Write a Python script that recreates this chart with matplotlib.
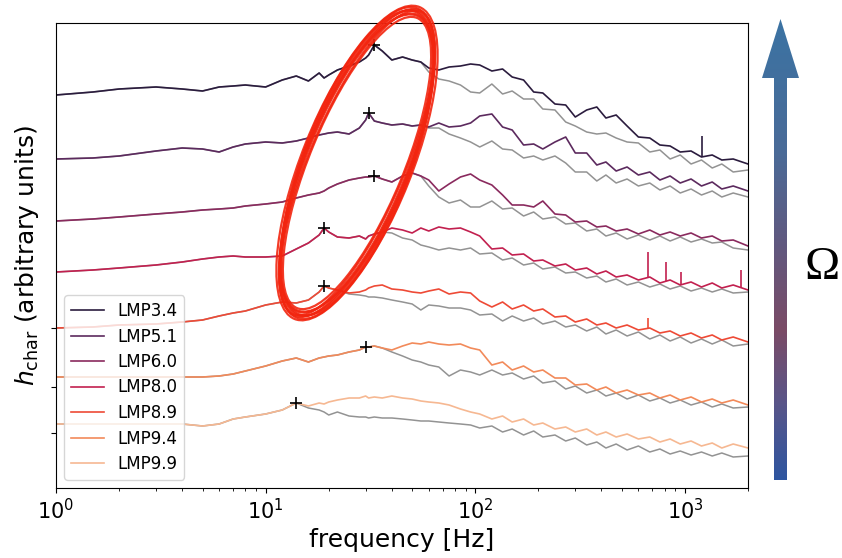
import numpy as np
import matplotlib
matplotlib.use("Agg")
import matplotlib.pyplot as plt
from matplotlib.patches import Ellipse, Polygon
from matplotlib.colors import LinearSegmentedColormap

# frequency grid [Hz] the spectra were read at
freq = [1, 1.5, 2, 3, 4, 5, 6, 7, 8, 10,
        12, 14, 16, 18, 19, 20, 22, 25, 28, 30,
        31, 33, 36, 40, 45, 50, 55, 60, 67, 75,
        85, 95, 105, 120, 135, 150, 170, 190, 210, 240,
        270, 300, 340, 380, 420, 470, 530, 600, 680, 760,
        850, 950, 1070, 1200, 1350, 1500, 1700, 2000]

labels = ["LMP3.4", "LMP5.1", "LMP6.0", "LMP8.0", "LMP8.9", "LMP9.4", "LMP9.9"]
colors = ["#2b1c3e", "#5c2a5e", "#8a2a5e", "#c2204f", "#ee4a36", "#f28a5a", "#f6b892"]

# h_char, shifted per model (arbitrary units), colored = full, gray = comparison run
lmp34 = [393, 396, 399, 401, 399, 397, 401, 402, 403, 401,
         408, 412, 407, 415, 410, 413, 418, 422, 426, 430,
         433, 443, 437, 428, 431, 428, 426, 420, 418, 421,
         422, 424, 423, 417, 419, 411, 408, 396, 395, 384,
         383, 371, 378, 381, 370, 373, 362, 351, 350, 343,
         342, 336, 337, 331, 333, 328, 329, 324]
lmp34_gray = [393, 396, 399, 401, 399, 397, 401, 402, 403, 401,
              408, 412, 407, 415, 410, 413, 418, 422, 426, 430,
              433, 443, 437, 428, 431, 428, 426, 416, 409, 407,
              403, 396, 395, 404, 394, 397, 389, 389, 379, 378,
              366, 362, 356, 354, 355, 350, 346, 345, 336, 338,
              329, 333, 324, 328, 320, 324, 316, 318]

lmp51 = [329, 330, 332, 337, 340, 339, 336, 341, 344, 346,
         345, 347, 350, 353, 354, 355, 356, 354, 360, 368,
         375, 367, 365, 363, 364, 362, 363, 361, 365, 361,
         362, 365, 372, 374, 361, 358, 343, 344, 339, 346,
         351, 335, 335, 323, 326, 317, 321, 313, 316, 308,
         312, 305, 309, 302, 306, 299, 302, 297]
lmp51_gray = [329, 330, 332, 337, 340, 339, 336, 341, 344, 346,
              345, 347, 350, 353, 354, 355, 356, 354, 360, 368,
              375, 367, 365, 363, 364, 362, 363, 360, 360, 354,
              350, 346, 341, 347, 339, 338, 330, 332, 328, 332,
              325, 316, 316, 307, 313, 305, 309, 302, 305, 298,
              302, 295, 299, 293, 297, 291, 295, 291]

lmp60 = [267, 269, 271, 274, 276, 278, 279, 280, 282, 284,
         286, 290, 293, 295, 297, 300, 304, 308, 310, 311,
         311, 312, 309, 306, 312, 315, 312, 308, 297, 304,
         311, 314, 308, 303, 293, 283, 283, 281, 287, 274,
         273, 266, 267, 261, 262, 257, 259, 254, 258, 253,
         256, 252, 255, 250, 252, 247, 248, 242]
lmp60_gray = [267, 269, 271, 274, 276, 278, 279, 280, 282, 284,
              286, 290, 293, 295, 297, 300, 304, 308, 310, 311,
              311, 312, 309, 306, 312, 315, 312, 302, 291, 285,
              288, 281, 281, 287, 279, 280, 272, 276, 269, 271,
              264, 265, 257, 259, 252, 255, 249, 253, 248, 252,
              247, 251, 246, 249, 245, 246, 240, 238]

lmp80 = [216, 218, 220, 223, 226, 229, 231, 232, 231, 231,
         232, 239, 245, 253, 260, 256, 251, 250, 252, 249,
         252, 254, 256, 260, 258, 255, 260, 257, 261, 259,
         260, 256, 252, 239, 240, 233, 234, 227, 228, 222,
         224, 218, 220, 214, 217, 211, 213, 208, 211, 205,
         208, 203, 206, 201, 205, 200, 203, 198]
lmp80_gray = [216, 218, 220, 223, 226, 229, 231, 232, 231, 231,
              232, 239, 245, 253, 260, 256, 251, 250, 252, 249,
              252, 254, 256, 255, 250, 248, 243, 241, 238, 240,
              238, 240, 234, 235, 228, 230, 223, 225, 219, 221,
              215, 216, 210, 212, 206, 209, 203, 206, 201, 204,
              199, 202, 197, 200, 196, 199, 195, 196]

lmp89 = [160, 161, 163, 164, 166, 168, 172, 175, 177, 183,
         186, 185, 188, 196, 202, 200, 198, 195, 196, 198,
         200, 202, 203, 199, 198, 196, 195, 197, 199, 194,
         196, 195, 187, 181, 186, 179, 183, 177, 179, 171,
         172, 166, 169, 163, 165, 160, 163, 158, 160, 155,
         157, 152, 155, 150, 153, 148, 151, 146]
lmp89_gray = [160, 161, 163, 164, 166, 168, 172, 175, 177, 183,
              186, 185, 188, 196, 202, 200, 198, 194, 193, 192,
              191, 191, 190, 188, 186, 184, 178, 183, 182, 180,
              180, 178, 173, 174, 167, 172, 167, 170, 164, 167,
              161, 163, 157, 161, 154, 158, 152, 156, 149, 153,
              147, 151, 145, 149, 144, 148, 142, 144]

lmp94 = [111, 111, 111, 111, 111, 111, 112, 114, 117, 122,
         127, 130, 126, 130, 131, 132, 133, 136, 138, 141,
         141, 142, 140, 138, 142, 145, 144, 146, 144, 143,
         144, 140, 138, 123, 126, 118, 122, 116, 118, 110,
         110, 103, 104, 98, 101, 95, 98, 93, 95, 90,
         93, 88, 91, 86, 89, 85, 88, 83]
lmp94_gray = [111, 111, 111, 111, 111, 111, 112, 114, 117, 122,
              127, 130, 126, 130, 131, 132, 133, 136, 138, 141,
              141, 142, 140, 136, 132, 128, 126, 123, 121, 112,
              118, 116, 113, 118, 113, 115, 109, 112, 105, 107,
              99, 102, 95, 98, 92, 95, 89, 93, 87, 90,
              85, 88, 83, 86, 81, 84, 80, 81]

lmp99 = [64, 64, 64, 64, 64, 62, 64, 69, 71, 74,
         78, 85, 82, 85, 84, 86, 88, 90, 90, 92,
         90, 91, 90, 92, 90, 89, 87, 86, 85, 83,
         79, 76, 74, 69, 72, 66, 69, 63, 65, 59,
         61, 56, 59, 53, 56, 51, 54, 49, 51, 46,
         49, 44, 47, 42, 45, 40, 44, 40]
lmp99_gray = [64, 64, 64, 64, 64, 62, 64, 69, 71, 74,
              78, 85, 80, 78, 76, 73, 76, 72, 71, 71,
              70, 71, 70, 70, 69, 68, 67, 67, 66, 65,
              64, 63, 60, 62, 56, 59, 53, 57, 51, 53,
              47, 50, 43, 46, 40, 44, 38, 42, 36, 39,
              34, 37, 33, 36, 32, 35, 31, 32]

curves = [lmp34, lmp51, lmp60, lmp80, lmp89, lmp94, lmp99]
grays = [lmp34_gray, lmp51_gray, lmp60_gray, lmp80_gray, lmp89_gray, lmp94_gray, lmp99_gray]

# frequency of the marked peak of each model
peak_f = [33, 31, 33, 19, 19, 30, 14]

# narrow lines sticking out of the spectra
spike_curve = [3, 3, 3, 3, 4, 0]
spike_f = [670, 815, 960, 1860, 670, 1210]
spike_top = [236, 226, 216, 218, 170, 352]

fig = plt.figure(figsize=(8.42, 5.58), dpi=100)
ax = fig.add_axes([56 / 842, 70 / 558, 692 / 842, 465 / 558])

handles = []
for i in range(len(curves)):
    ax.plot(freq, grays[i], color="gray", lw=1.1, alpha=0.85)
    l, = ax.plot(freq, curves[i], color=colors[i], lw=1.2)
    handles.append(l)

logf = np.log10(freq)
for i in range(len(curves)):
    y = np.interp(np.log10(peak_f[i]), logf, curves[i])
    ax.plot(peak_f[i], y, "k+", ms=9, mew=1.2, zorder=5)

for c, f, top in zip(spike_curve, spike_f, spike_top):
    base = np.interp(np.log10(f), logf, curves[c])
    ax.vlines(f, base, top, color=colors[c], lw=1.2)

ax.set_xscale("log")
ax.set_xlim(1, 2000)
ax.set_ylim(0, 465)
ax.set_yticks([55, 101, 160])
ax.set_yticklabels([])
ax.tick_params(axis="x", labelsize=15)
ax.set_xlabel("frequency [Hz]", fontsize=18)
ax.set_ylabel(r"$h_{\mathrm{char}}$ (arbitrary units)", fontsize=18)
ax.legend(handles, labels, loc="lower left", fontsize=12, framealpha=0.8,
          labelspacing=0.45)

# overlay in pixel units for the hand drawn ellipse and the Omega arrow
ov = fig.add_axes([0, 0, 1, 1])
ov.set_xlim(0, 842)
ov.set_ylim(0, 558)
ov.axis("off")
ov.patch.set_alpha(0)

for a, b, ang in [(157, 47, 67.5), (160, 50, 68.0), (163, 52, 68.5), (165, 51, 67.8),
                  (168, 55, 68.2), (162, 54, 69.0), (164, 48, 67.2), (166, 53, 68.8),
                  (159, 52, 67.9)]:
    ov.add_patch(Ellipse((357, 395), 2 * a, 2 * b, angle=ang, fill=False,
                         ec="#f2250f", lw=1.6, alpha=0.9))

arrow = Polygon([(774, 78), (787, 78), (787, 480), (799, 480), (780.5, 539),
                 (762, 480), (774, 480)], closed=True, fc="none", ec="none")
ov.add_patch(arrow)
cmap = LinearSegmentedColormap.from_list(
    "omega", [(0, "#2e55a0"), (0.17, "#5a5588"), (0.325, "#7b4b66"),
              (0.5, "#62587e"), (0.716, "#4a6b98"), (1, "#3b73a3")])
grad = np.linspace(0, 1, 256).reshape(-1, 1)
im = ov.imshow(grad, cmap=cmap, origin="lower", extent=(760, 801, 78, 539), aspect="auto")
im.set_clip_path(arrow)
ov.set_xlim(0, 842)
ov.set_ylim(0, 558)
ov.text(822, 290, "Ω", fontsize=34, family="Liberation Serif", ha="center", va="center")

fig.savefig("out.png", dpi=100)
